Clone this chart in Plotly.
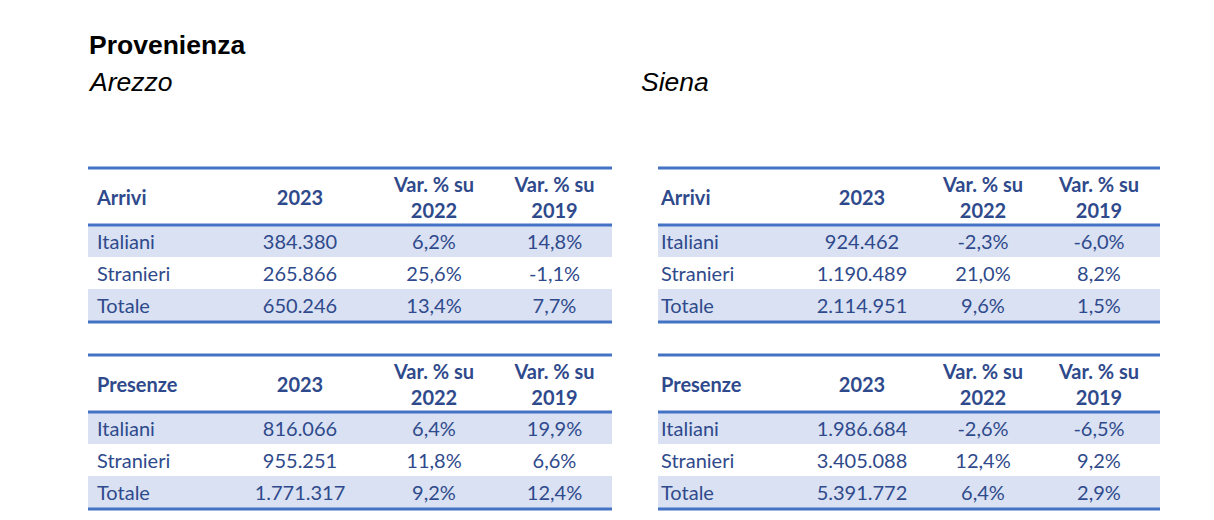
import plotly.graph_objects as go

# righe e intestazioni delle tabelle
righe = ["Italiani", "Stranieri", "Totale"]
intestazioni = ["2023", "Var. % su<br>2022", "Var. % su<br>2019"]

# Arezzo
arezzo_arrivi_2023 = [384380, 265866, 650246]
arezzo_arrivi_var22 = [6.2, 25.6, 13.4]
arezzo_arrivi_var19 = [14.8, -1.1, 7.7]
arezzo_presenze_2023 = [816066, 955251, 1771317]
arezzo_presenze_var22 = [6.4, 11.8, 9.2]
arezzo_presenze_var19 = [19.9, 6.6, 12.4]

# Siena
siena_arrivi_2023 = [924462, 1190489, 2114951]
siena_arrivi_var22 = [-2.3, 21.0, 9.6]
siena_arrivi_var19 = [-6.0, 8.2, 1.5]
siena_presenze_2023 = [1986684, 3405088, 5391772]
siena_presenze_var22 = [-2.6, 12.4, 6.4]
siena_presenze_var19 = [-6.5, 9.2, 2.9]

W, H = 1214, 520
M = 8  # margine del body della pagina
BLU = "#4472C4"
TESTO = "#2F4A8C"
FASCIA = "#D9E1F2"
FONT = "Lato"
FS = 20
DY = 3  # piccolo spostamento verticale del testo nelle celle


def fmt_num(v):
    return f"{v:,}".replace(",", ".")


def fmt_pct(v):
    return f"{v:.1f}%".replace(".", ",")


# bordi colonne (px) e posizione verticale di ogni tabella
tabelle = [
    dict(nome="Arrivi", bordi=[88, 229, 371, 497, 612], top=168, pad=9,
         dati=[arezzo_arrivi_2023, arezzo_arrivi_var22, arezzo_arrivi_var19]),
    dict(nome="Presenze", bordi=[88, 229, 371, 497, 612], top=355, pad=9,
         dati=[arezzo_presenze_2023, arezzo_presenze_var22, arezzo_presenze_var19]),
    dict(nome="Arrivi", bordi=[658, 796, 928, 1038, 1160], top=168, pad=3,
         dati=[siena_arrivi_2023, siena_arrivi_var22, siena_arrivi_var19]),
    dict(nome="Presenze", bordi=[658, 796, 928, 1038, 1160], top=355, pad=3,
         dati=[siena_presenze_2023, siena_presenze_var22, siena_presenze_var19]),
]
h_header = 57
h_riga = 32

fig = go.Figure()
shapes = []

for t in tabelle:
    b = t["bordi"]
    y_head = t["top"] + h_header
    # fasce righe alterne
    for i in range(len(righe)):
        if i % 2 == 0:
            shapes.append(dict(type="rect", xref="x", yref="y", x0=b[0], x1=b[-1],
                               y0=y_head + i * h_riga, y1=y_head + (i + 1) * h_riga,
                               fillcolor=FASCIA, line=dict(width=0), layer="below"))
    # linee orizzontali
    for y in [t["top"], y_head, y_head + len(righe) * h_riga + 1]:
        shapes.append(dict(type="line", xref="x", yref="y", x0=b[0], x1=b[-1],
                           y0=y, y1=y, line=dict(color=BLU, width=3)))

    y_centro_head = t["top"] + h_header / 2 + DY
    y_righe = [y_head + (i + 0.5) * h_riga + DY for i in range(len(righe))]

    # prima colonna (allineata a sinistra)
    fig.add_trace(go.Scatter(
        x=[b[0] + t["pad"]] * (len(righe) + 1),
        y=[y_centro_head] + y_righe,
        text=[f"<b>{t['nome']}</b>"] + righe,
        mode="text", textposition="middle right",
        textfont=dict(family=FONT, size=FS, color=TESTO),
        hoverinfo="skip", showlegend=False,
    ))
    # colonne numeriche (centrate)
    for j, col in enumerate(t["dati"]):
        xc = (b[j + 1] + b[j + 2]) / 2
        valori = [fmt_num(v) for v in col] if j == 0 else [fmt_pct(v) for v in col]
        fig.add_trace(go.Scatter(
            x=[xc] * (len(righe) + 1),
            y=[y_centro_head] + y_righe,
            text=[f"<b>{intestazioni[j]}</b>"] + valori,
            mode="text", textposition="middle center",
            textfont=dict(family=FONT, size=FS, color=TESTO),
            hoverinfo="skip", showlegend=False,
        ))

titolo_font = dict(family="Liberation Sans", size=26.5, color="#000000")
annotations = [
    dict(x=87, y=45, text="<b>Provenienza</b>", xanchor="left", yanchor="middle", font=titolo_font),
    dict(x=86, y=82, text="<i>Arezzo</i>", xanchor="left", yanchor="middle", font=titolo_font),
    dict(x=639, y=82, text="<i>Siena</i>", xanchor="left", yanchor="middle", font=titolo_font),
]
for a in annotations:
    a.update(xref="x", yref="y", showarrow=False)

fig.update_layout(
    width=W - 2 * M, height=H - 2 * M,
    margin=dict(l=0, r=0, t=0, b=0),
    paper_bgcolor="white", plot_bgcolor="white",
    xaxis=dict(range=[M, W - M], visible=False, fixedrange=True),
    yaxis=dict(range=[H - M, M], visible=False, fixedrange=True),
    shapes=shapes, annotations=annotations,
)

fig.write_html("out.html")
